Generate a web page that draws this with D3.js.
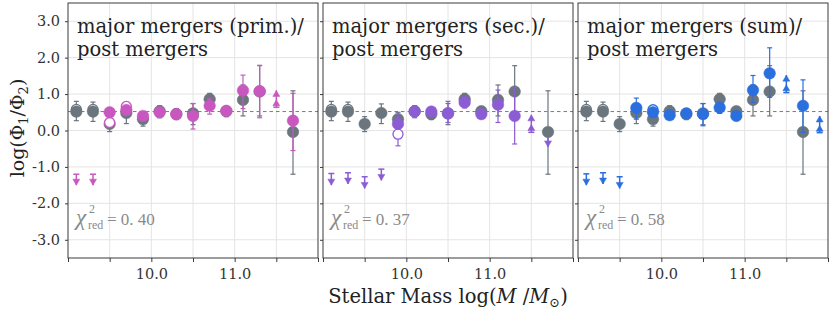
<!DOCTYPE html>
<html>
<head>
<meta charset="utf-8">
<script src="https://cdn.jsdelivr.net/npm/d3@7"></script>
<style>
  body { margin: 0; background: #fff; }
  svg text { font-family: "DejaVu Serif", serif; }
  svg text.math { font-family: "Liberation Serif", serif; }
</style>
</head>
<body>
<div id="chart"></div>
<script>
// Data: [mass, value, errLow, errHigh]; limits: [mass, cap, tip]
const grayPts = [
  [9.1, 0.52, 0.27, 0.80], [9.3, 0.52, 0.25, 0.78], [9.5, 0.18, -0.03, 0.38],
  [9.7, 0.48, 0.19, 0.73], [9.9, 0.31, 0.12, 0.50], [10.1, 0.53, 0.35, 0.68],
  [10.3, 0.45, 0.30, 0.60], [10.5, 0.47, 0.16, 0.74], [10.7, 0.86, 0.73, 1.02],
  [10.9, 0.53, 0.38, 0.66], [11.1, 0.84, 0.40, 1.25], [11.3, 1.07, 0.40, 1.78],
  [11.7, -0.04, -1.20, 1.09]
];
const grayOpen = [[9.1, 0.58, 0.58, 0.58], [9.3, 0.58, 0.58, 0.58]];

const primPts = [
  [9.5, 0.50, 0.42, 0.60], [9.7, 0.56, 0.45, 0.68], [9.9, 0.40, 0.33, 0.48],
  [10.1, 0.50, 0.42, 0.58], [10.3, 0.45, 0.37, 0.53], [10.5, 0.40, 0.04, 0.74],
  [10.7, 0.68, 0.45, 0.87], [10.9, 0.54, 0.42, 0.66], [11.1, 1.10, 0.60, 1.52],
  [11.3, 1.08, 0.35, 1.79], [11.7, 0.27, -0.55, 1.02]
];
const primOpen = [[9.5, 0.22, 0.12, 0.32], [9.7, 0.66, 0.56, 0.78]];
const primUpper = [[9.1, -1.2, -1.5], [9.3, -1.2, -1.5], [9.3, 0.50, 0.36]];
const primLower = [[11.5, 0.64, 1.10]];

const secPts = [
  [9.9, 0.18, 0.05, 0.45], [10.1, 0.52, 0.44, 0.60], [10.3, 0.52, 0.42, 0.62],
  [10.5, 0.47, 0.22, 0.80], [10.7, 0.77, 0.62, 0.92], [10.9, 0.45, 0.35, 0.55],
  [11.1, 0.71, 0.22, 1.11], [11.3, 0.40, -0.37, 1.18]
];
const secOpen = [[9.9, -0.10, -0.42, 0.10]];
const secUpper = [[9.1, -1.18, -1.5], [9.3, -1.16, -1.47], [9.5, -1.27, -1.59],
  [9.7, -1.06, -1.37], [11.7, -0.15, -0.45]];
const secLower = [[11.5, -0.05, 0.43]];

const sumPts = [
  [9.7, 0.62, 0.31, 0.89], [9.9, 0.50, 0.38, 0.62], [10.1, 0.42, 0.33, 0.52],
  [10.3, 0.47, 0.38, 0.56], [10.5, 0.45, 0.13, 0.74], [10.7, 0.63, 0.47, 0.77],
  [10.9, 0.40, 0.32, 0.50], [11.1, 1.11, 0.77, 1.51], [11.3, 1.57, 0.91, 2.27],
  [11.7, 0.68, -0.05, 1.39]
];
const sumOpen = [[9.9, 0.57, 0.50, 0.65]];
const sumUpper = [[9.1, -1.19, -1.5], [9.3, -1.16, -1.47], [9.5, -1.27, -1.59]];
const sumLower = [[11.5, 1.04, 1.52], [11.9, -0.06, 0.40]];

const titles = [
  ["major mergers (prim.)/", "post mergers"],
  ["major mergers (sec.)/", "post mergers"],
  ["major mergers (sum)/", "post mergers"]
];
const chiValues = ["0. 40", "0. 37", "0. 58"];
const yTicks = [-3, -2, -1, 0, 1, 2, 3];
const xTicks = [9.0, 9.5, 10.0, 10.5, 11.0, 11.5, 12.0];
const xLabelTicks = [10.0, 11.0];
const refLine = 0.52;

const panels = [
  { color: "#c957c0", pts: primPts, open: primOpen, upper: primUpper, lower: primLower },
  { color: "#8c5cd4", pts: secPts, open: secOpen, upper: secUpper, lower: secLower },
  { color: "#2b6fdf", pts: sumPts, open: sumOpen, upper: sumUpper, lower: sumLower }
];
const grayColor = "#6b757e";

const width = 830, height = 311;
const panelLefts = [68, 323, 578];
const panelW = 250, plotTop = 3, plotBottom = 258;
const fmt = d => d3.format(".1f")(d).replace("−", "-");

const svg = d3.select("#chart").append("svg")
  .attr("width", width).attr("height", height);

const y = d3.scaleLinear().domain([-3.5, 3.5]).range([plotBottom, plotTop]);

function errBars(g, data, x, color) {
  const eb = g.append("g").attr("stroke", color).attr("stroke-width", 1.2);
  data.forEach(d => {
    eb.append("line").attr("x1", x(d[0])).attr("x2", x(d[0]))
      .attr("y1", y(d[2])).attr("y2", y(d[3]));
    [d[2], d[3]].forEach(v => {
      eb.append("line").attr("x1", x(d[0]) - 2.5).attr("x2", x(d[0]) + 2.5)
        .attr("y1", y(v)).attr("y2", y(v));
    });
  });
}

function limits(g, data, x, color, up) {
  data.forEach(d => {
    const cx = x(d[0]), yc = y(d[1]), yt = y(d[2]);
    const lg = g.append("g").attr("stroke", color).attr("fill", color);
    lg.append("line").attr("x1", cx - 3).attr("x2", cx + 3).attr("y1", yc).attr("y2", yc)
      .attr("stroke-width", 1.5);
    lg.append("line").attr("x1", cx).attr("x2", cx).attr("y1", yc).attr("y2", yt)
      .attr("stroke-width", 1.5);
    const dir = up ? 1 : -1;
    const heads = up ? [yt, (yc + yt) / 2 + 1] : [yt];
    heads.forEach(h => {
      lg.append("path")
        .attr("d", `M${cx - 3.5},${h + 6 * dir}L${cx + 3.5},${h + 6 * dir}L${cx},${h}Z`)
        .attr("stroke-width", 0.5);
    });
  });
}

function circles(g, data, x, color, filled) {
  g.append("g").selectAll("circle").data(data).join("circle")
    .attr("cx", d => x(d[0])).attr("cy", d => y(d[1])).attr("r", filled ? 5.8 : 5)
    .attr("fill", filled ? color : "#fff")
    .attr("stroke", color).attr("stroke-width", filled ? 0.5 : 1.3);
}

panels.forEach((p, i) => {
  const left = panelLefts[i];
  const x = d3.scaleLinear().domain([9.0, 12.0]).range([left, left + panelW]);
  const g = svg.append("g");

  g.append("rect").attr("x", left).attr("y", plotTop)
    .attr("width", panelW).attr("height", plotBottom - plotTop).attr("fill", "#fff");

  // grid
  g.append("g").selectAll("line").data(xTicks.slice(1, -1)).join("line")
    .attr("x1", d => x(d)).attr("x2", d => x(d)).attr("y1", plotTop).attr("y2", plotBottom)
    .attr("stroke", "#e4e4e4").attr("stroke-width", 1);
  g.append("g").selectAll("line").data(yTicks).join("line")
    .attr("x1", left).attr("x2", left + panelW).attr("y1", d => y(d)).attr("y2", d => y(d))
    .attr("stroke", "#e4e4e4").attr("stroke-width", 1);

  // reference line
  g.append("line").attr("x1", left).attr("x2", left + panelW)
    .attr("y1", y(refLine)).attr("y2", y(refLine))
    .attr("stroke", "#7a7a7a").attr("stroke-width", 1).attr("stroke-dasharray", "3.5,3");

  // titles
  titles[i].forEach((t, k) => {
    g.append("text").attr("x", left + 9).attr("y", 33 + k * 23)
      .style("font-size", "19.5px").attr("fill", "#222").text(t);
  });

  // chi^2 (separate pieces so they do not collide)
  const chiG = g.append("g").attr("fill", "#8a8a8a");
  chiG.append("text").attr("class", "math").attr("x", left + 8).attr("y", 225)
    .style("font-size", "23px").style("font-style", "italic").text("χ");
  chiG.append("text").attr("class", "math").attr("x", left + 21).attr("y", 213)
    .style("font-size", "12px").text("2");
  chiG.append("text").attr("class", "math").attr("x", left + 20).attr("y", 229)
    .style("font-size", "12px").text("red");
  chiG.append("text").attr("class", "math").attr("x", left + 39).attr("y", 225)
    .style("font-size", "17px").text("= " + chiValues[i]);

  // gray series
  errBars(g, grayPts, x, grayColor);
  limits(g, p.upper, x, p.color, false);
  limits(g, p.lower, x, p.color, true);
  circles(g, grayOpen, x, grayColor, false);
  circles(g, grayPts, x, grayColor, true);

  // coloured series
  errBars(g, p.open, x, p.color);
  errBars(g, p.pts, x, p.color);
  circles(g, p.open, x, p.color, false);
  circles(g, p.pts, x, p.color, true);

  // frame
  g.append("rect").attr("x", left).attr("y", plotTop)
    .attr("width", panelW).attr("height", plotBottom - plotTop)
    .attr("fill", "none").attr("stroke", "#3a3a3a").attr("stroke-width", 1);

  // x axis
  const xAxis = g.append("g").attr("transform", `translate(0,${plotBottom})`)
    .call(d3.axisBottom(x).tickValues(xTicks).tickSize(4)
      .tickFormat(d => xLabelTicks.includes(d) ? fmt(d) : ""));
  xAxis.select(".domain").remove();
  xAxis.selectAll(".tick line").attr("stroke", "#3a3a3a");
  xAxis.selectAll("text").style("font-size", "14.5px").attr("fill", "#333")
    .attr("font-family", "DejaVu Serif").attr("dy", "0.95em");

  // y axis
  const yAxis = g.append("g").attr("transform", `translate(${left},0)`)
    .call(d3.axisLeft(y).tickValues(yTicks).tickSize(3)
      .tickFormat(d => i === 0 ? fmt(d) : ""));
  yAxis.select(".domain").remove();
  yAxis.selectAll(".tick line").attr("stroke", "#3a3a3a");
  yAxis.selectAll("text").style("font-size", "14.5px").attr("fill", "#333")
    .attr("font-family", "DejaVu Serif").attr("x", -8);
});

// axis labels
const xl = svg.append("text").attr("x", 448).attr("y", 303)
  .attr("text-anchor", "middle").style("font-size", "19.5px").attr("fill", "#222");
xl.append("tspan").text("Stellar Mass log(");
xl.append("tspan").style("font-style", "italic").text("M");
xl.append("tspan").text(" /");
xl.append("tspan").style("font-style", "italic").text("M");
xl.append("tspan").attr("dy", 4).style("font-size", "13px").text("⊙");
xl.append("tspan").attr("dy", -4).text(")");

const yl = svg.append("text").attr("transform", "translate(24,128) rotate(-90)")
  .attr("text-anchor", "middle").style("font-size", "19px").attr("fill", "#222");
yl.append("tspan").text("log(Φ");
yl.append("tspan").attr("dy", 4).style("font-size", "13px").text("1");
yl.append("tspan").attr("dy", -4).text("/Φ");
yl.append("tspan").attr("dy", 4).style("font-size", "13px").text("2");
yl.append("tspan").attr("dy", -4).text(")");
</script>
</body>
</html>
